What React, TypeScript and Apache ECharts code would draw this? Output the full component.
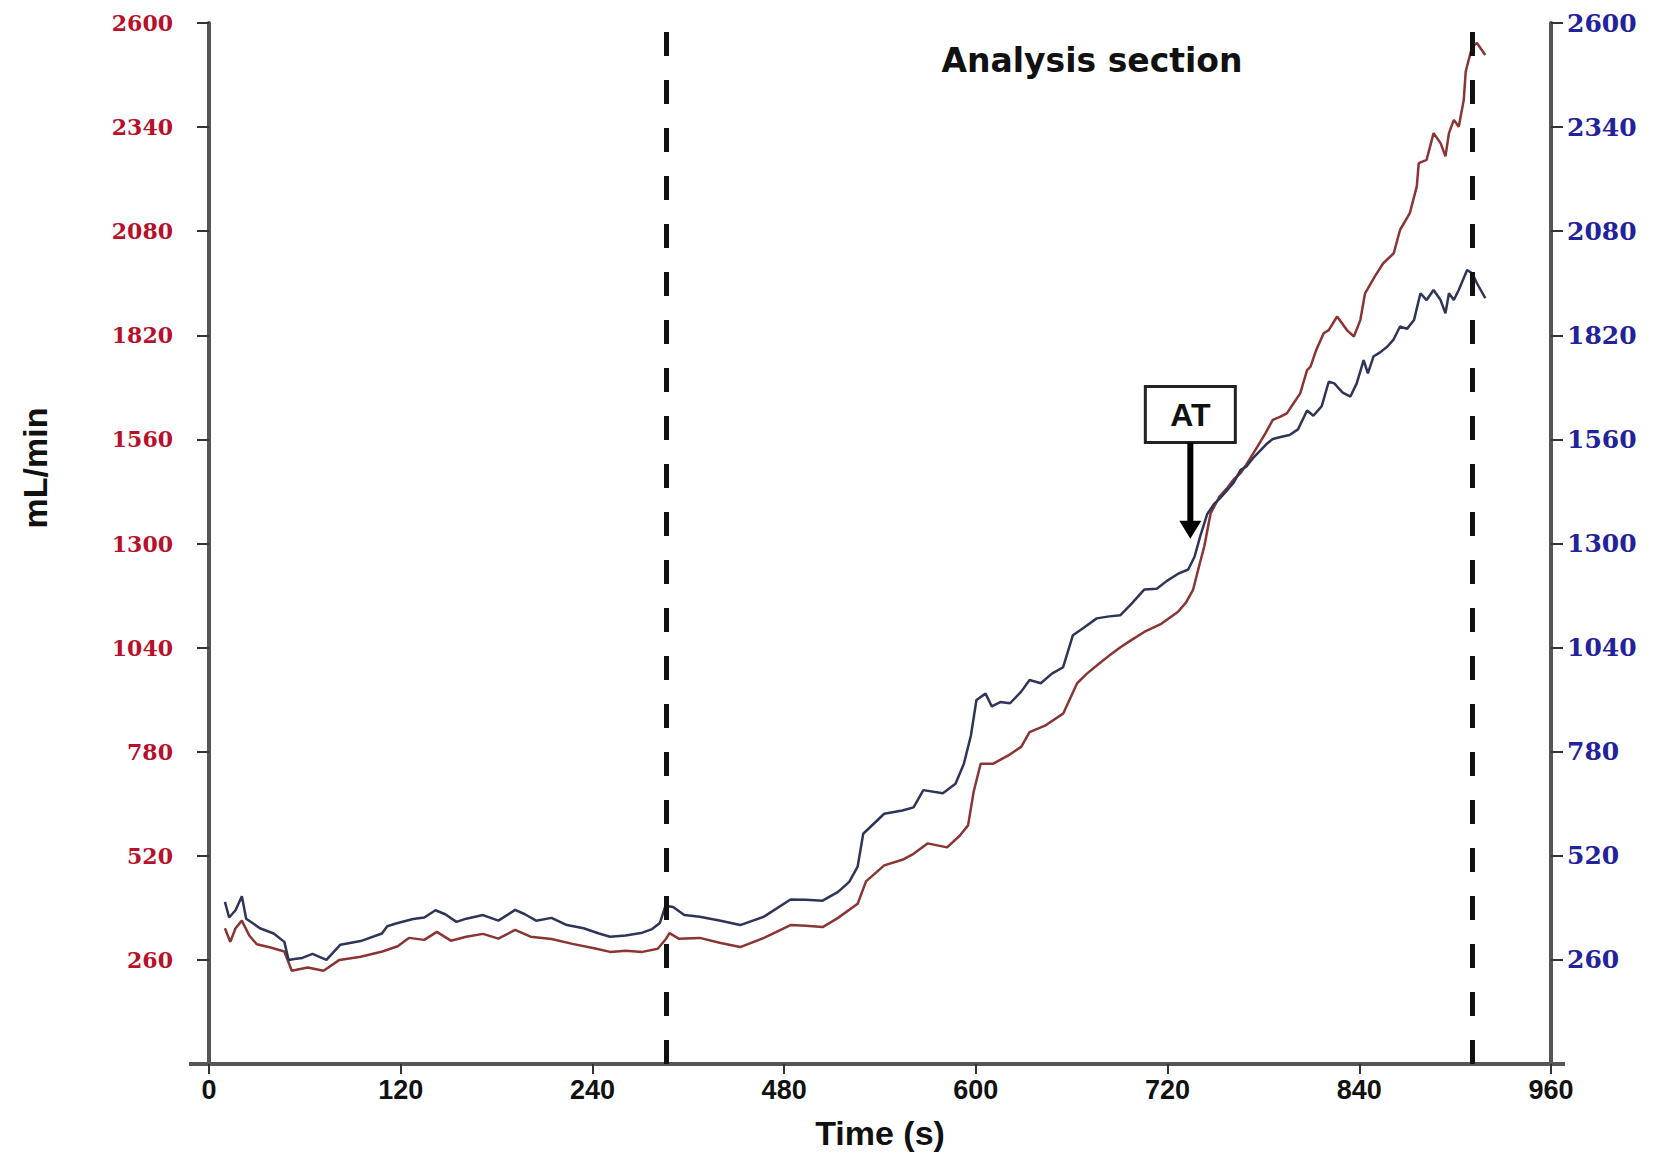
import React, { useEffect, useRef } from 'react';
import * as echarts from 'echarts';

// ---- axes ----
const X_MAX = 960;
const X_TICK_LABELS = ['0', '120', '240', '480', '600', '720', '840', '960'];
const Y_MAX = 2600;
const Y_INTERVAL = 260;

// ---- series: blue (right axis) ----
const BLUE_TIME = [
  11.4, 14.4, 19, 23.5, 26.6, 31.1, 36.4, 46.3, 53.9, 56.9, 61, 66.8, 74, 84, 94,
  108.5, 123.7, 127.5, 135, 146, 154, 162, 169, 177, 184, 196, 207, 219, 226, 234,
  245, 256, 268, 279, 287, 298, 310, 317, 322.5, 326.5, 332, 340, 351, 366, 380,
  397, 416, 427, 439, 450, 458, 464, 468, 477, 483, 496, 504, 511, 525, 534, 540,
  545, 549, 555.5, 560, 566, 573, 581, 587, 595, 603, 611, 618, 626, 635, 644, 652,
  660, 669, 678, 685, 693, 700.5, 705, 709, 714, 719, 723, 728.5, 733, 738, 742,
  747.5, 752, 757, 761, 766.5, 773, 779, 785.5, 790, 796, 801, 805, 807, 811, 816.5,
  821, 826, 829, 833, 838, 843, 847.5, 852, 857, 862, 866.6, 871, 876, 881, 884.5,
  887, 890.5, 894, 900, 903.6, 907, 913,
];
const BLUE_VALUES = [
  405, 366, 384, 419, 363, 352, 339, 326, 305, 260, 262, 265, 275, 260, 298,
  307, 326, 344, 352, 362, 366, 384, 374, 355, 363, 372, 358, 385, 374, 358,
  365, 347, 339, 326, 318, 321, 328, 337, 352, 395, 392, 372, 368, 358, 347,
  368, 411, 410, 408, 430, 455, 493, 575, 605, 625, 633, 641, 684, 676, 700, 750,
  820, 909, 925, 893, 904, 901, 930, 959, 951, 975, 991, 1071, 1090, 1113, 1118, 1121,
  1150, 1185, 1187, 1206, 1224, 1235, 1267, 1317, 1373, 1399, 1412, 1434, 1452, 1484, 1492,
  1516, 1532, 1550, 1561, 1566, 1571, 1585, 1632, 1619, 1643, 1704, 1700, 1692, 1677, 1667,
  1700, 1758, 1725, 1767, 1778, 1792, 1810, 1842, 1836, 1858, 1925, 1908, 1933, 1908, 1875,
  1925, 1908, 1933, 1983, 1975, 1950, 1913,
];

// ---- series: red (left axis) ----
const RED_TIME = [
  11.4, 15.2, 19, 23.5, 28.8, 34.2, 44, 53.9, 59.2, 70.6, 82, 93.3,
  108.5, 124, 135, 143, 154, 163, 173, 184, 196, 207, 219, 230, 245, 260, 275.5,
  287, 298, 310, 321, 327, 329.4, 336, 351, 366, 380, 397, 416, 427, 439, 450, 464,
  470, 483, 496, 504, 514, 528, 537, 543, 547, 552, 561, 571.5, 581, 587, 598, 611,
  621, 628, 637.5, 644, 652, 659.5, 669, 681.5, 693, 699, 704, 708, 712, 716.5, 723,
  728.5, 733, 738, 742, 750, 756, 761, 766.5, 771, 776, 780.6, 785.5, 788, 792, 797.4,
  801, 807, 814, 819, 823.6, 827, 834, 840, 847.5, 852, 859, 864, 865.4, 871, 876,
  881, 884.5, 887, 890.5, 894, 897.6, 899, 903.6, 907, 913,
];
const RED_VALUES = [
  339, 305, 339, 358, 321, 299, 291, 281, 233, 241, 233, 260,
  268, 281, 294, 315, 310, 330, 308, 318, 325, 313, 335, 318, 312, 300, 289,
  280, 283, 280, 288, 313, 327, 313, 315, 302, 292, 315, 347, 345, 342, 365, 400,
  456, 496, 510, 525, 551, 541, 570, 596, 680, 750, 750, 770, 792, 829, 845, 875,
  951, 975, 1002, 1020, 1041, 1058, 1079, 1100, 1129, 1153, 1185, 1240, 1293, 1375, 1418,
  1439, 1460, 1476, 1497, 1542, 1577, 1609, 1617, 1625, 1651, 1675, 1733, 1742, 1783, 1825,
  1833, 1867, 1833, 1817, 1858, 1925, 1967, 2000, 2025, 2083, 2125, 2192, 2250, 2258, 2325,
  2300, 2267, 2325, 2358, 2341, 2408, 2479, 2541, 2550, 2520,
];

// ---- annotations ----
const SECTION_BOUNDS = [327, 904];
const SECTION_LABEL = 'Analysis section';
const AT_LABEL = 'AT';
const AT_TIME = 702;
const AT_TIP_VALUE = 1312;
const AT_BOX_TOP_VALUE = 1692;
const AT_BOX_BOTTOM_VALUE = 1552;

const RED_LABEL = '#b8102a';
const BLUE_LABEL = '#22229c';
const RED_LINE = '#8a3434';
const BLUE_LINE = '#2f3458';

const zip = (xs: number[], ys: number[]) => xs.map((x, i) => [x, ys[i]]);

export default function App() {
  const ref = useRef<HTMLDivElement>(null);

  useEffect(() => {
    if (!ref.current) return;
    const chart = echarts.init(ref.current, undefined, { renderer: 'svg' });
    const step = X_MAX / (X_TICK_LABELS.length - 1);
    const tickValues = X_TICK_LABELS.map((_, i) => i * step);

    const yAxisBase = (pos: 'left' | 'right', color: string) => ({
      type: 'value',
      position: pos,
      min: 0,
      max: Y_MAX,
      interval: Y_INTERVAL,
      splitLine: { show: false },
      axisLine: { show: true, lineStyle: { color: '#555', width: 4 } },
      axisTick: { show: true, length: 12, lineStyle: { color: '#333', width: 2 } },
      axisLabel: {
        showMinLabel: false,
        formatter: (v: number) => String(v),
        color,
        fontFamily: 'DejaVu Serif',
        fontWeight: 'bold',
        fontSize: pos === 'left' ? 22 : 25,
        margin: pos === 'left' ? 36 : 16,
      },
    });

    const option: any = {
      animation: false,
      backgroundColor: '#ffffff',
      grid: {
        left: 209,
        right: 112,
        top: 23,
        bottom: 93,
        containLabel: false,
        outerBoundsMode: 'none',
      },
      xAxis: {
        type: 'value',
        min: 0,
        max: X_MAX,
        splitLine: { show: false },
        axisLine: { show: true, onZero: false, lineStyle: { color: '#555', width: 4 } },
        axisTick: {
          show: true,
          customValues: tickValues,
          length: 10,
          lineStyle: { color: '#333', width: 2 },
        },
        axisLabel: {
          customValues: tickValues,
          formatter: (v: number) => X_TICK_LABELS[Math.round(v / step)] ?? '',
          color: '#111',
          fontFamily: 'Liberation Sans',
          fontWeight: 'bold',
          fontSize: 27,
          margin: 12,
        },
        name: 'Time (s)',
        nameLocation: 'middle',
        nameGap: 52,
        nameTextStyle: {
          color: '#111',
          fontFamily: 'Liberation Sans',
          fontWeight: 'bold',
          fontSize: 34,
        },
      },
      yAxis: [yAxisBase('left', RED_LABEL), yAxisBase('right', BLUE_LABEL)],
      series: [
        {
          name: 'red',
          type: 'line',
          yAxisIndex: 0,
          data: zip(RED_TIME, RED_VALUES),
          showSymbol: false,
          lineStyle: { color: RED_LINE, width: 2.5 },
          z: 3,
        },
        {
          name: 'blue',
          type: 'line',
          yAxisIndex: 1,
          data: zip(BLUE_TIME, BLUE_VALUES),
          showSymbol: false,
          lineStyle: { color: BLUE_LINE, width: 2.5 },
          z: 3,
          markLine: {
            silent: true,
            symbol: ['none', 'none'],
            label: { show: false },
            lineStyle: { color: '#111', width: 5, type: [24, 24] },
            data: SECTION_BOUNDS.map((x) => ({ xAxis: x })),
          },
        },
      ],
    };
    chart.setOption(option);

    const px = (t: number, v: number) =>
      chart.convertToPixel({ xAxisIndex: 0, yAxisIndex: 0 }, [t, v]) as number[];
    const tip = px(AT_TIME, AT_TIP_VALUE);
    const boxTop = px(AT_TIME, AT_BOX_TOP_VALUE);
    const boxBottom = px(AT_TIME, AT_BOX_BOTTOM_VALUE);
    const origin = px(0, 0);
    const end = px(X_MAX, 0);
    const boxW = 90;
    const headH = 18;
    const headW = 22;

    chart.setOption({
      graphic: [
        {
          type: 'line',
          shape: { x1: origin[0] - 20, y1: origin[1], x2: end[0] + 14, y2: end[1] },
          style: { stroke: '#555', lineWidth: 4 },
        },
        {
          type: 'text',
          x: 1092,
          y: 60,
          style: {
            text: SECTION_LABEL,
            align: 'center',
            verticalAlign: 'middle',
            fill: '#111',
            font: 'bold 33px "DejaVu Sans"',
          },
        },
        {
          type: 'text',
          x: 35,
          y: 468,
          rotation: Math.PI / 2,
          style: {
            text: 'mL/min',
            align: 'center',
            verticalAlign: 'middle',
            fill: '#111',
            font: 'bold 34px "Liberation Sans"',
          },
        },
        {
          type: 'rect',
          shape: {
            x: tip[0] - boxW / 2,
            y: boxTop[1],
            width: boxW,
            height: boxBottom[1] - boxTop[1],
          },
          style: { fill: '#fff', stroke: '#222', lineWidth: 3 },
        },
        {
          type: 'text',
          x: tip[0],
          y: (boxTop[1] + boxBottom[1]) / 2,
          style: {
            text: AT_LABEL,
            align: 'center',
            verticalAlign: 'middle',
            fill: '#111',
            font: 'bold 32px "Liberation Sans"',
          },
        },
        {
          type: 'line',
          shape: { x1: tip[0], y1: boxBottom[1], x2: tip[0], y2: tip[1] - headH + 2 },
          style: { stroke: '#000', lineWidth: 6 },
        },
        {
          type: 'polygon',
          shape: {
            points: [
              [tip[0] - headW / 2, tip[1] - headH],
              [tip[0] + headW / 2, tip[1] - headH],
              [tip[0], tip[1]],
            ],
          },
          style: { fill: '#000' },
        },
      ],
    });

    return () => chart.dispose();
  }, []);

  return (
    <div
      ref={ref}
      style={{ position: 'absolute', left: 0, top: 0, width: 1663, height: 1157, background: '#fff' }}
    />
  );
}
